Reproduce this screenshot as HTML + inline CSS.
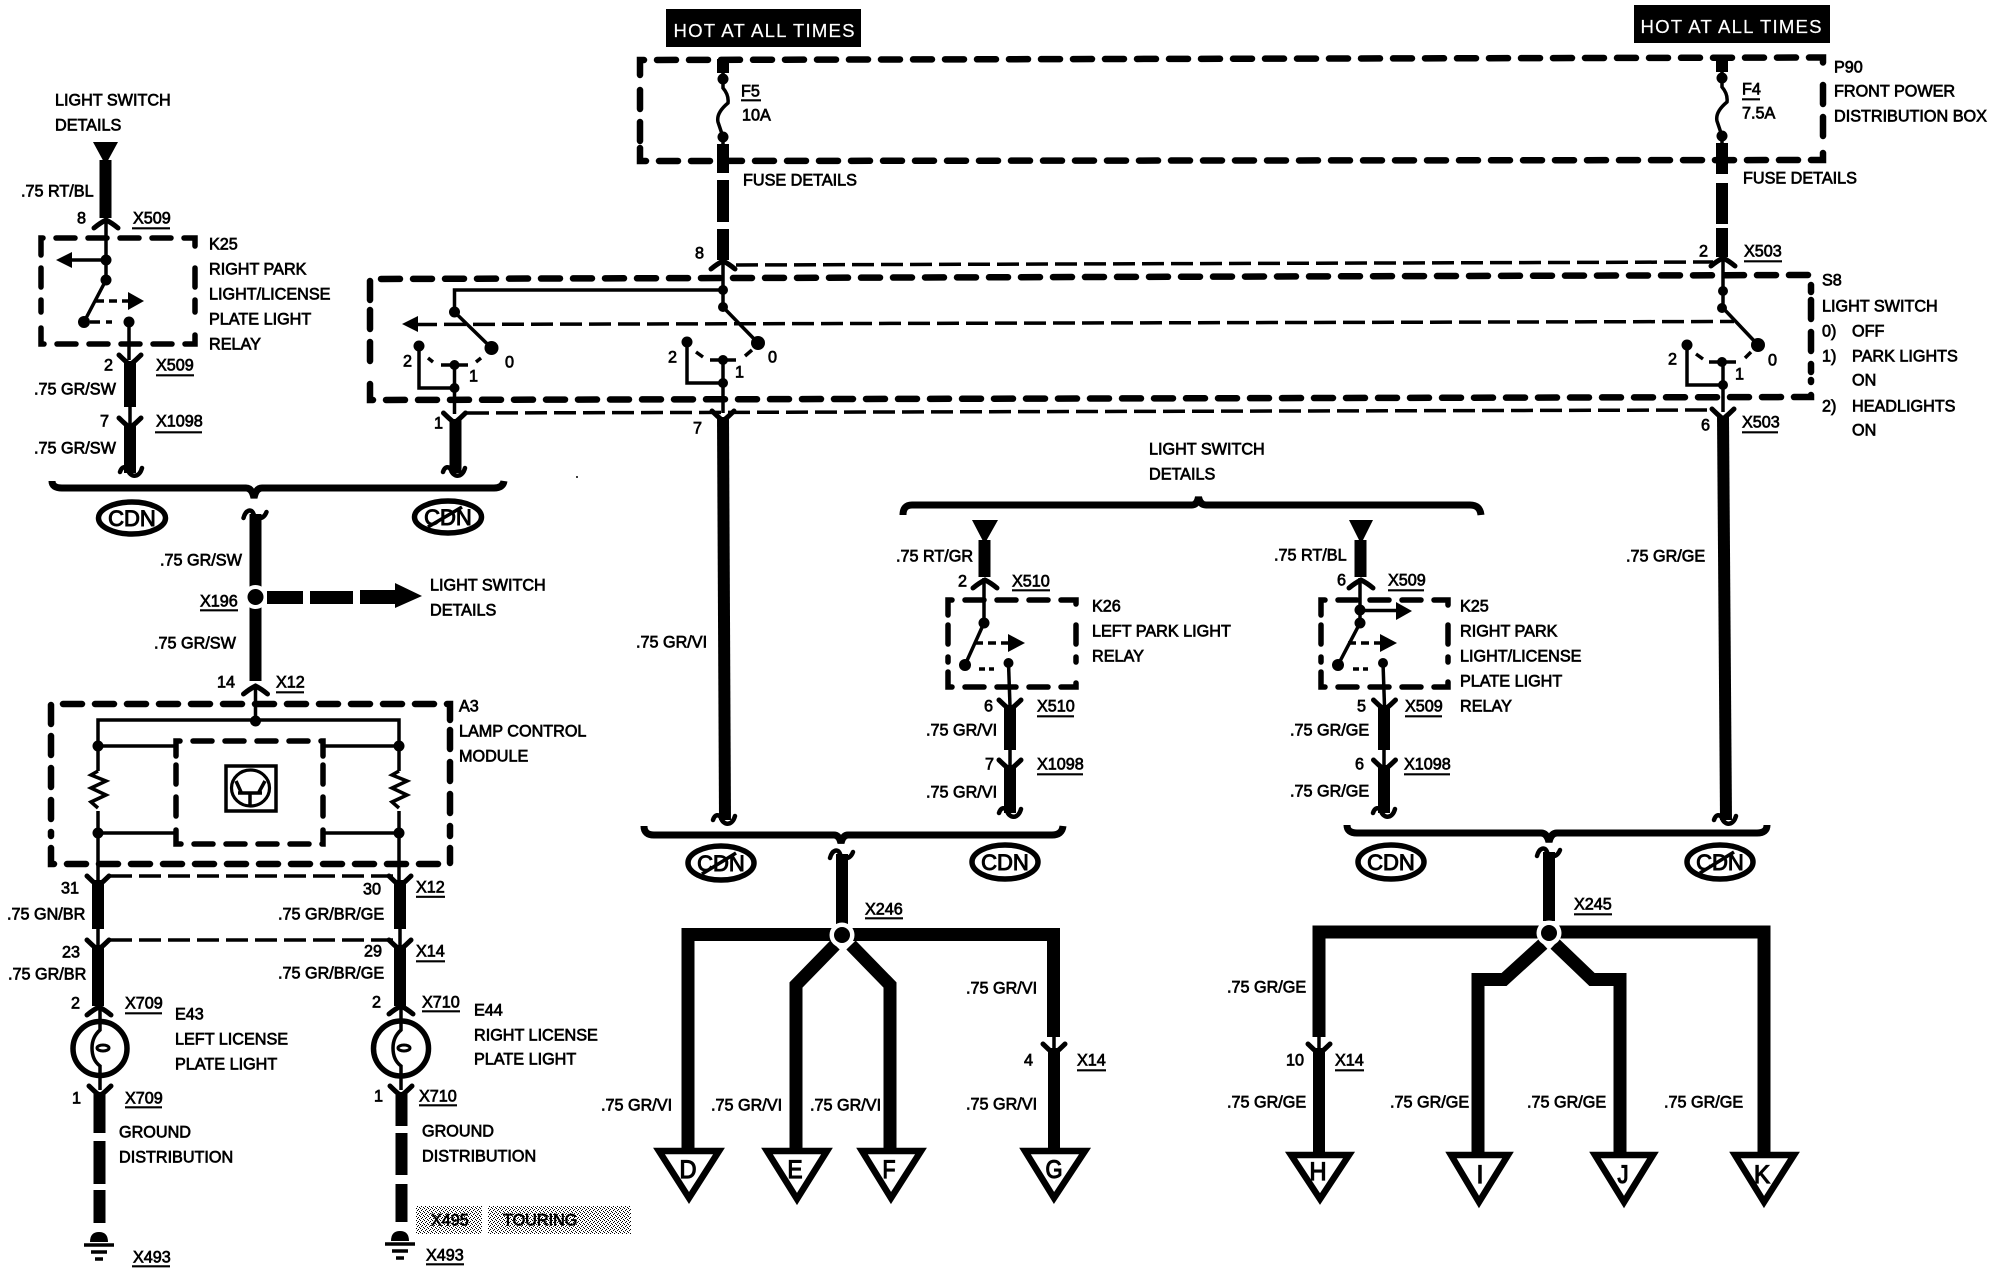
<!DOCTYPE html>
<html><head><meta charset="utf-8"><style>
html,body{margin:0;padding:0;background:#fff}
svg{display:block}
text{font-family:"Liberation Sans",sans-serif;font-size:16.2px;fill:#000;stroke:#000;stroke-width:.7px}
.w{fill:#fff;stroke:#fff;font-size:18.6px;stroke-width:.2px}
.c{font-size:22px;text-anchor:middle;stroke-width:1px}
.l{font-size:25px;text-anchor:middle;stroke-width:1.2px}
.b{fill:none;stroke:#000;stroke-width:6.5;stroke-dasharray:19 13;stroke-linecap:round}
.s{fill:none;stroke:#000;stroke-width:5.5;stroke-dasharray:19 13;stroke-linecap:round}
.d{fill:none;stroke:#000;stroke-width:3.5;stroke-dasharray:22 7}
.t{fill:none;stroke:#000;stroke-width:3.5}
.a{fill:none;stroke:#000;stroke-width:3.5}
.W{fill:none;stroke:#000;stroke-width:12}
.B{fill:none;stroke:#000;stroke-width:13;stroke-linejoin:miter}
.br{fill:none;stroke:#000;stroke-width:7}
.tri{fill:#fff;stroke:#000;stroke-width:6.5;stroke-linejoin:miter}
.ov{fill:none;stroke:#000;stroke-width:5.5}
.u{stroke:#000;stroke-width:2.2}
.cap{fill:none;stroke:#000;stroke-width:5;stroke-linecap:round}
.tl{fill:none;stroke:#000;stroke-width:4.5;stroke-linecap:round}
</style></head><body>
<svg width="1990" height="1280" viewBox="0 0 1990 1280" xmlns="http://www.w3.org/2000/svg">
<defs>
<pattern id="dith" width="4" height="4" patternUnits="userSpaceOnUse">
<rect width="4" height="4" fill="#fff"/><rect x="0" y="0" width="1" height="1" fill="#000"/><rect x="2" y="1" width="1" height="1" fill="#000"/><rect x="1" y="2" width="1" height="1" fill="#000"/><rect x="3" y="3" width="1" height="1" fill="#000"/>
</pattern>
<g id="A"><path class="cap" d="M-12 6 Q-6 1 0 -2 Q6 1 12 6"/></g>
<g id="V"><path class="cap" d="M-11 -8 Q-6 -3 0 2 Q6 -3 11 -8"/></g>
<path id="TD" class="tl" d="M-12 -2 C-10 -8 -6 -8 -4 -4 C-2 3 7 5 10 -6"/>
<path id="TU" class="tl" d="M-12 6 C-10 -2 -4 -4 -2 2 C0 8 8 8 11 0"/>
<g id="gnd"><path d="M-9 2 Q-9 -8 0 -8 Q9 -8 9 2 Z" fill="#000"/><path class="t" d="M-15 5H15M-8 12H8M-4 19H4"/></g>
</defs>
<rect width="1990" height="1280" fill="#fff"/>

<!-- HOT labels -->
<rect x="666" y="9" width="195" height="38" fill="#000"/><text class="w" x="673.5" y="37" textLength="181" lengthAdjust="spacing">HOT AT ALL TIMES</text>
<rect x="1634" y="5" width="196" height="38" fill="#000"/><text class="w" x="1640.5" y="33" textLength="181" lengthAdjust="spacing">HOT AT ALL TIMES</text>

<!-- P90 box -->
<path class="b" d="M640 75V60L1823 57.5V72"/>
<path class="b" d="M640 148V161L1823 160V147"/>
<path class="b" d="M640 90V142M1823 85V140"/>
<!-- S8 box -->
<path class="b" d="M370 300V279L1811 275V292"/>
<path class="b" d="M370 384V400L1811 397V380"/>
<path class="b" d="M370 310V372M1811 300V372"/>
<path class="d" d="M736 265L1713 262"/>
<path class="d" d="M467 413L1708 410"/>
<path class="d" d="M415 324.5L1734 321.5"/>
<path d="M402 324L418 316V332Z" fill="#000"/>

<!-- Fuse F5 -->
<path class="W" d="M723 59V73M723 144V173M723 180V222M723 229V260"/>
<path class="t" d="M723 73V88Q729 95 728 103Q716 113 718 122L723 137V144"/>
<circle cx="723" cy="79" r="5.5"/><circle cx="723" cy="137" r="5.5"/>
<use href="#A" x="723" y="263"/>
<path class="t" d="M723 262V307L758 343"/>
<circle cx="723" cy="290" r="5"/><circle cx="723" cy="307" r="5"/><circle cx="758" cy="343" r="7"/>
<circle cx="687" cy="342" r="5.5"/>
<path class="t" d="M687 342V383H723"/>
<path class="t" d="M723 360V413"/>
<circle cx="723" cy="360" r="5"/><circle cx="723" cy="383" r="5"/>
<path class="t" d="M696 352L703 357M710 360H736M745 356L752 350"/>
<use href="#V" x="723" y="419"/>
<path class="W" d="M723 417L725 820"/>
<use href="#TD" x="725" y="822"/>

<!-- link to left switch -->
<path class="t" d="M723 290H454.5V312L491.5 348"/>
<circle cx="454.5" cy="312" r="5.5"/><circle cx="491.5" cy="348" r="7"/>
<circle cx="419" cy="346" r="5.5"/>
<path class="t" d="M419 346V388H454.5"/>
<path class="t" d="M454.5 365V414"/>
<circle cx="454.5" cy="365" r="5"/><circle cx="454.5" cy="388" r="5"/>
<path class="t" d="M428 358L433 362M441 365H468M476 362L481 358"/>
<use href="#V" x="454.5" y="421"/>
<path class="W" d="M455.5 419V473"/>
<use href="#TD" x="455" y="474"/>

<!-- Fuse F4 -->
<path class="W" d="M1722 58V72M1722 143V174M1722 183V224M1722 228V257"/>
<path class="t" d="M1722 72V87Q1728 94 1727 102Q1715 112 1717 121L1722 136V143"/>
<circle cx="1722" cy="78" r="5.5"/><circle cx="1722" cy="136" r="5.5"/>
<use href="#A" x="1723" y="260"/>
<path class="t" d="M1723 260V308L1758 345"/>
<circle cx="1723" cy="291" r="5"/><circle cx="1722" cy="308" r="5"/><circle cx="1758" cy="345" r="7"/>
<circle cx="1687" cy="345" r="5.5"/>
<path class="t" d="M1687 345V385H1723"/>
<path class="t" d="M1723 362V412"/>
<circle cx="1722" cy="362" r="5"/><circle cx="1723" cy="385" r="5"/>
<path class="t" d="M1696 354L1703 359M1709 362H1736M1745 358L1751 352"/>
<use href="#V" x="1723" y="417"/>
<path class="W" d="M1723 416L1726 820"/>
<use href="#TD" x="1726" y="822"/>

<!-- Left relay K25 -->
<path d="M93 142H118L105.5 165Z" fill="#000"/>
<path class="W" d="M105.5 160V218"/>
<use href="#A" x="106" y="222"/>
<path class="s" d="M41 255V238H195V255"/>
<path class="s" d="M41 328V344H195V328"/>
<path class="s" d="M41 268V312M195 268V312"/>
<path class="t" d="M106 220V280L84 322"/>
<circle cx="106" cy="260" r="5.5"/><circle cx="106" cy="280" r="5.5"/><circle cx="84" cy="322" r="6"/>
<path class="t" d="M101 260H68"/><path d="M56 260L72 252V268Z" fill="#000"/>
<path class="a" d="M96 301H128" stroke-dasharray="8 5"/><path d="M144 301L128 292V310Z" fill="#000"/>
<path class="t" d="M90 322H112" stroke-dasharray="10 6"/>
<circle cx="129" cy="322" r="5.5"/>
<path class="t" d="M129 322V360"/>
<use href="#V" x="130" y="363"/>
<path class="W" d="M130 361V407"/>
<path class="t" d="M130 407V425"/>
<use href="#V" x="130" y="426"/>
<path class="W" d="M130 424V473"/>
<use href="#TD" x="132" y="474"/>

<!-- left brace -->
<path class="br" d="M52 481Q52 488 62 488H246Q252 488 254 498Q256 488 262 488H494Q503 488 504 481"/>
<ellipse class="ov" cx="132" cy="518" rx="33.5" ry="16"/><text class="c" x="132" y="526">CDN</text>
<ellipse class="ov" cx="448" cy="517" rx="33.5" ry="16"/><text class="c" x="448" y="525">CDN</text>
<path class="t" d="M428 527L462 507" stroke-width="4"/>

<!-- main left down -->
<use href="#TU" x="255.5" y="512"/>
<path class="W" d="M255.5 514V681"/>
<circle cx="255.5" cy="597" r="12" fill="#fff"/><circle cx="255.5" cy="597" r="8"/>
<path d="M267 591H303V604H267ZM310 591H353V604H310ZM360 590H396V604H360Z" fill="#000"/>
<path d="M395 583L422 596L395 608Z" fill="#000"/>
<use href="#A" x="255.5" y="688"/>

<!-- A3 -->
<path class="b" d="M51 724V704H450V720"/>
<path class="b" d="M51 848V864H450V848"/>
<path class="b" d="M51 736V836M450 730V836"/>
<path class="t" d="M255.5 688V721M98 881V720H399V880"/>
<circle cx="255.5" cy="721" r="5.5"/>
<path fill="#fff" stroke="none" d="M94 771H102V811H94ZM395 771H403V811H395Z"/>
<path class="t" d="M98 771L91 775L106 781L91 788L106 795L91 802L98 808M399 771L392 775L407 781L392 788L407 795L392 802L399 808"/>
<circle cx="98" cy="746" r="5.5"/><circle cx="399" cy="746" r="5.5"/><circle cx="98" cy="833" r="5.5"/><circle cx="399" cy="833" r="5.5"/>
<path class="t" d="M98 746H175M324 746H399M98 833H175M322 833H399"/>
<path class="s" d="M176 756V741H323V756"/>
<path class="s" d="M176 830V844H323V830"/>
<path class="s" d="M176 765V820M323 765V820"/>
<rect x="226" y="766" width="50" height="45" fill="none" stroke="#000" stroke-width="3.5"/>
<ellipse cx="250.5" cy="788" rx="19" ry="18" fill="none" stroke="#000" stroke-width="3.2"/>
<path class="t" d="M250 794V806M238 793H262M236 781L241 792M265 781L259 792" stroke-width="3"/>

<!-- wires below A3 -->
<use href="#V" x="98" y="884"/><use href="#V" x="400" y="884"/>
<path class="W" d="M98 880V929M400 880V929"/>
<path class="d" d="M110 876H393M110 940H393" stroke-width="3"/>
<path class="t" d="M98 929V945M400 929V945"/>
<use href="#V" x="98" y="948"/><use href="#V" x="400" y="948"/>
<path class="W" d="M98 945V1006M400 945V1006"/>
<use href="#A" x="99" y="1009"/><use href="#A" x="401" y="1008"/>

<!-- lamps -->
<circle cx="100" cy="1048.5" r="27" fill="none" stroke="#000" stroke-width="5.5"/>
<circle cx="401" cy="1048.5" r="27.5" fill="none" stroke="#000" stroke-width="5.5"/>
<path class="t" d="M100 1008V1030Q92 1037 92 1048Q92 1060 100 1066V1090"/>
<path class="t" d="M401 1007V1030Q393 1037 393 1048Q393 1060 401 1066V1090"/>
<ellipse cx="103" cy="1048" rx="6" ry="3" fill="none" stroke="#000" stroke-width="3"/>
<ellipse cx="404" cy="1048" rx="6" ry="3" fill="none" stroke="#000" stroke-width="3"/>
<use href="#V" x="100" y="1094"/><use href="#V" x="401" y="1094"/>
<path class="W" d="M99.5 1092V1133M99.5 1141V1184M99.5 1190V1223"/>
<path class="W" d="M401.5 1092V1126M401.5 1133V1175M401.5 1184V1222"/>
<use href="#gnd" x="99" y="1240"/><use href="#gnd" x="400" y="1239"/>

<!-- Touring -->
<rect x="416" y="1206" width="66" height="28" fill="url(#dith)"/>
<rect x="488" y="1206" width="143" height="28" fill="url(#dith)"/>

<!-- Top relay brace -->
<path class="br" d="M903 515Q903 505 912 505H1192Q1197 505 1198.5 497Q1200 505 1206 505H1470Q1480 505 1481 515"/>

<!-- K26 -->
<path d="M972 520H998L984.5 544Z" fill="#000"/>
<path class="W" d="M984.5 540V577"/>
<use href="#A" x="985" y="582"/>
<path class="s" d="M948 615V600H1076V615"/>
<path class="s" d="M948 672V687H1076V672"/>
<path class="s" d="M948 625V662M1076 625V662"/>
<path class="t" d="M984 578V623L965 665"/>
<circle cx="984" cy="623" r="5.5"/><circle cx="965" cy="665" r="6"/>
<path class="a" d="M975 643H1008" stroke-dasharray="8 5"/><path d="M1025 643L1008 634V652Z" fill="#000"/>
<path class="t" d="M979 669H994" stroke-dasharray="6 4"/>
<circle cx="1008.5" cy="663" r="5"/>
<path class="t" d="M1008.5 663L1010 706"/>
<use href="#V" x="1010" y="708"/>
<path class="W" d="M1010 705V750"/>
<path class="t" d="M1010 750V765"/>
<use href="#V" x="1010" y="768"/>
<path class="W" d="M1010 765V813"/>
<use href="#TD" x="1011" y="815"/>

<!-- K25 right -->
<path d="M1349 520H1373L1361 544Z" fill="#000"/>
<path class="W" d="M1360.5 540V577"/>
<use href="#A" x="1361" y="582"/>
<path class="s" d="M1321 615V600H1448V615"/>
<path class="s" d="M1321 672V687H1448V672"/>
<path class="s" d="M1321 625V662M1448 625V662"/>
<path class="t" d="M1360 578V623L1338 665"/>
<circle cx="1360" cy="610" r="5.5"/><circle cx="1360" cy="623" r="5.5"/><circle cx="1338" cy="665" r="6"/>
<path class="t" d="M1360 610.5H1396"/><path d="M1412 611L1396 602V620Z" fill="#000"/>
<path class="a" d="M1348 643H1380" stroke-dasharray="8 5"/><path d="M1397 643L1380 634V652Z" fill="#000"/>
<path class="t" d="M1353 669H1368" stroke-dasharray="6 4"/>
<circle cx="1383" cy="663" r="5"/>
<path class="t" d="M1383 663L1384.5 706"/>
<use href="#V" x="1384.5" y="708"/>
<path class="W" d="M1384 705V750"/>
<path class="t" d="M1384 750V765"/>
<use href="#V" x="1384.5" y="768"/>
<path class="W" d="M1384 765V813"/>
<use href="#TD" x="1385" y="815"/>

<!-- bottom brace left -->
<path class="br" d="M644 826Q644 835 654 835H834Q839 835 841 843Q843 835 848 835H1052Q1062 835 1063 826"/>
<ellipse class="ov" cx="721" cy="863" rx="33" ry="17"/><text class="c" x="721" y="871">CDN</text>
<path class="t" d="M702 874L736 853" stroke-width="4"/>
<ellipse class="ov" cx="1005" cy="862" rx="33" ry="17"/><text class="c" x="1005" y="870">CDN</text>
<use href="#TU" x="842" y="852"/>
<path class="W" d="M842 854V924"/>
<path class="B" d="M836 934.5H688V1150"/>
<path class="B" d="M848 934.5H1053.5V1037"/>
<path class="W" d="M1054 1048V1150"/>
<path class="t" d="M1054 1037V1050"/>
<use href="#V" x="1054" y="1052"/>
<path class="B" d="M835 945L796 985V1150"/>
<path class="B" d="M851 945L890 985V1150"/>
<circle cx="842" cy="935" r="12.5" fill="#fff"/><circle cx="842" cy="935" r="8"/>

<polygon class="tri" points="659,1151 719,1151 689,1198"/><text class="l" x="688" y="1178" textLength="17" lengthAdjust="spacingAndGlyphs">D</text>
<polygon class="tri" points="767,1151 827,1151 797,1199"/><text class="l" x="795" y="1178" textLength="15" lengthAdjust="spacingAndGlyphs">E</text>
<polygon class="tri" points="862,1151 921,1151 891,1198"/><text class="l" x="889" y="1178" textLength="13" lengthAdjust="spacingAndGlyphs">F</text>
<polygon class="tri" points="1025,1151 1085,1151 1054,1198"/><text class="l" x="1054" y="1178" textLength="17" lengthAdjust="spacingAndGlyphs">G</text>

<!-- bottom brace right -->
<path class="br" d="M1347 825Q1347 833 1357 833H1541Q1547 833 1549 842Q1551 833 1557 833H1757Q1767 833 1767 825"/>
<ellipse class="ov" cx="1391" cy="862" rx="33" ry="17"/><text class="c" x="1391" y="870">CDN</text>
<ellipse class="ov" cx="1720" cy="862" rx="33" ry="17"/><text class="c" x="1720" y="870">CDN</text>
<path class="t" d="M1700 873L1734 852" stroke-width="4"/>
<use href="#TU" x="1549" y="850"/>
<path class="W" d="M1549 852V921"/>
<path class="B" d="M1543 932H1319V1037"/>
<path class="W" d="M1319 1048V1154"/>
<path class="t" d="M1319 1037V1050"/>
<use href="#V" x="1319" y="1052"/>
<path class="B" d="M1555 932H1764V1154"/>
<path class="B" d="M1543 944L1504 979.5H1478V1154"/>
<path class="B" d="M1555 944L1592 979.5H1620V1154"/>
<circle cx="1549" cy="933" r="12.5" fill="#fff"/><circle cx="1549" cy="933" r="8"/>

<polygon class="tri" points="1291,1155 1349,1155 1320,1199"/><text class="l" x="1318" y="1180" textLength="17" lengthAdjust="spacingAndGlyphs">H</text>
<polygon class="tri" points="1451,1155 1508,1155 1479,1202"/><text class="l" x="1480" y="1183">I</text>
<polygon class="tri" points="1595,1155 1653,1155 1624,1202"/><text class="l" x="1623" y="1183" textLength="11" lengthAdjust="spacingAndGlyphs">J</text>
<polygon class="tri" points="1735,1155 1794,1155 1764,1202"/><text class="l" x="1762" y="1183" textLength="16" lengthAdjust="spacingAndGlyphs">K</text>

<circle cx="577" cy="477" r="1"/>

<!-- LABELS -->
<g transform="translate(0,-.7)">
<text x="431" y="1226">X495</text><text x="503" y="1226">TOURING</text>
<text x="55" y="106">LIGHT SWITCH</text><text x="55" y="131">DETAILS</text>
<text x="21" y="197">.75 RT/BL</text>
<text x="77" y="224">8</text>
<text x="133" y="224">X509</text><line class="u" x1="132" y1="229" x2="170" y2="229"/>
<text x="209" y="250">K25</text><text x="209" y="275">RIGHT PARK</text><text x="209" y="300">LIGHT/LICENSE</text><text x="209" y="325">PLATE LIGHT</text><text x="209" y="350">RELAY</text>
<text x="104" y="371">2</text>
<text x="156" y="371">X509</text><line class="u" x1="156" y1="376" x2="194" y2="376"/>
<text x="34" y="395">.75 GR/SW</text>
<text x="100" y="427">7</text>
<text x="156" y="427">X1098</text><line class="u" x1="155" y1="433" x2="202" y2="433"/>
<text x="34" y="454">.75 GR/SW</text>
<text x="434" y="429">1</text>
<text x="403" y="367">2</text><text x="505" y="368">0</text><text x="469" y="382">1</text>

<text x="160" y="566">.75 GR/SW</text>
<text x="200" y="607">X196</text><line class="u" x1="200" y1="611" x2="238" y2="611"/>
<text x="430" y="591">LIGHT SWITCH</text><text x="430" y="616">DETAILS</text>
<text x="154" y="649">.75 GR/SW</text>
<text x="217" y="688">14</text>
<text x="276" y="688">X12</text><line class="u" x1="276" y1="693" x2="304" y2="693"/>
<text x="459" y="712">A3</text><text x="459" y="737">LAMP CONTROL</text><text x="459" y="762">MODULE</text>

<text x="61" y="894">31</text><text x="7" y="920">.75 GN/BR</text>
<text x="62" y="958">23</text><text x="8" y="980">.75 GR/BR</text>
<text x="363" y="895">30</text><text x="278" y="920">.75 GR/BR/GE</text>
<text x="416" y="893">X12</text><line class="u" x1="416" y1="897.5" x2="445" y2="897.5"/>
<text x="364" y="957">29</text><text x="278" y="979">.75 GR/BR/GE</text>
<text x="416" y="957">X14</text><line class="u" x1="416" y1="962" x2="445" y2="962"/>
<text x="71" y="1009">2</text>
<text x="125" y="1009">X709</text><line class="u" x1="125" y1="1014" x2="162" y2="1014"/>
<text x="175" y="1020">E43</text><text x="175" y="1045">LEFT LICENSE</text><text x="175" y="1070">PLATE LIGHT</text>
<text x="372" y="1008">2</text>
<text x="422" y="1008">X710</text><line class="u" x1="422" y1="1012" x2="460" y2="1012"/>
<text x="474" y="1016">E44</text><text x="474" y="1041">RIGHT LICENSE</text><text x="474" y="1065">PLATE LIGHT</text>
<text x="72" y="1104">1</text>
<text x="125" y="1104">X709</text><line class="u" x1="125" y1="1108" x2="162" y2="1108"/>
<text x="119" y="1138">GROUND</text><text x="119" y="1163">DISTRIBUTION</text>
<text x="374" y="1102">1</text>
<text x="419" y="1102">X710</text><line class="u" x1="419" y1="1106" x2="457" y2="1106"/>
<text x="422" y="1137">GROUND</text><text x="422" y="1162">DISTRIBUTION</text>
<text x="133" y="1263">X493</text><line class="u" x1="132" y1="1267" x2="170" y2="1267"/>
<text x="426" y="1261">X493</text><line class="u" x1="426" y1="1265" x2="464" y2="1265"/>

<text x="741" y="97">F5</text><line class="u" x1="741" y1="101" x2="761" y2="101"/>
<text x="742" y="121">10A</text>
<text x="743" y="186">FUSE DETAILS</text>
<text x="695" y="259">8</text><text x="668" y="363">2</text><text x="768" y="363">0</text><text x="735" y="378">1</text><text x="693" y="434">7</text>
<text x="1149" y="455">LIGHT SWITCH</text><text x="1149" y="480">DETAILS</text>
<text x="636" y="648">.75 GR/VI</text>
<text x="1626" y="562">.75 GR/GE</text>

<text x="1742" y="95">F4</text><line class="u" x1="1742" y1="100" x2="1760" y2="100"/>
<text x="1742" y="119">7.5A</text>
<text x="1743" y="184">FUSE DETAILS</text>
<text x="1699" y="257">2</text>
<text x="1744" y="257">X503</text><line class="u" x1="1744" y1="262" x2="1782" y2="262"/>
<text x="1668" y="365">2</text><text x="1768" y="366">0</text><text x="1735" y="380">1</text>
<text x="1701" y="431">6</text>
<text x="1742" y="428">X503</text><line class="u" x1="1742" y1="433" x2="1778" y2="433"/>
<text x="1834" y="73">P90</text><text x="1834" y="97">FRONT POWER</text><text x="1834" y="122">DISTRIBUTION BOX</text>
<text x="1822" y="286">S8</text><text x="1822" y="312">LIGHT SWITCH</text>
<text x="1822" y="337">0)</text><text x="1852" y="337">OFF</text>
<text x="1822" y="362">1)</text><text x="1852" y="362">PARK LIGHTS</text>
<text x="1852" y="386">ON</text>
<text x="1822" y="412">2)</text><text x="1852" y="412">HEADLIGHTS</text>
<text x="1852" y="436">ON</text>

<text x="896" y="562">.75 RT/GR</text>
<text x="958" y="587">2</text>
<text x="1012" y="587">X510</text><line class="u" x1="1012" y1="591" x2="1050" y2="591"/>
<text x="1092" y="612">K26</text><text x="1092" y="637">LEFT PARK LIGHT</text><text x="1092" y="662">RELAY</text>
<text x="984" y="712">6</text>
<text x="1037" y="712">X510</text><line class="u" x1="1037" y1="717" x2="1074" y2="717"/>
<text x="926" y="736">.75 GR/VI</text>
<text x="985" y="770">7</text>
<text x="1037" y="770">X1098</text><line class="u" x1="1037" y1="775" x2="1083" y2="775"/>
<text x="926" y="798">.75 GR/VI</text>

<text x="1274" y="561">.75 RT/BL</text>
<text x="1337" y="586">6</text>
<text x="1388" y="586">X509</text><line class="u" x1="1388" y1="591" x2="1424" y2="591"/>
<text x="1460" y="612">K25</text><text x="1460" y="637">RIGHT PARK</text><text x="1460" y="662">LIGHT/LICENSE</text><text x="1460" y="687">PLATE LIGHT</text><text x="1460" y="712">RELAY</text>
<text x="1357" y="712">5</text>
<text x="1405" y="712">X509</text><line class="u" x1="1405" y1="717" x2="1442" y2="717"/>
<text x="1290" y="736">.75 GR/GE</text>
<text x="1355" y="770">6</text>
<text x="1404" y="770">X1098</text><line class="u" x1="1404" y1="775" x2="1450" y2="775"/>
<text x="1290" y="797">.75 GR/GE</text>

<text x="865" y="915">X246</text><line class="u" x1="865" y1="919" x2="903" y2="919"/>
<text x="966" y="994">.75 GR/VI</text>
<text x="1024" y="1066">4</text>
<text x="1077" y="1066">X14</text><line class="u" x1="1077" y1="1071" x2="1106" y2="1071"/>
<text x="601" y="1111">.75 GR/VI</text><text x="711" y="1111">.75 GR/VI</text><text x="810" y="1111">.75 GR/VI</text><text x="966" y="1110">.75 GR/VI</text>

<text x="1574" y="910">X245</text><line class="u" x1="1574" y1="915" x2="1612" y2="915"/>
<text x="1227" y="993">.75 GR/GE</text>
<text x="1286" y="1066">10</text>
<text x="1335" y="1066">X14</text><line class="u" x1="1335" y1="1071" x2="1364" y2="1071"/>
<text x="1227" y="1108">.75 GR/GE</text><text x="1390" y="1108">.75 GR/GE</text><text x="1527" y="1108">.75 GR/GE</text><text x="1664" y="1108">.75 GR/GE</text>
</g>
</svg>
</body></html>
